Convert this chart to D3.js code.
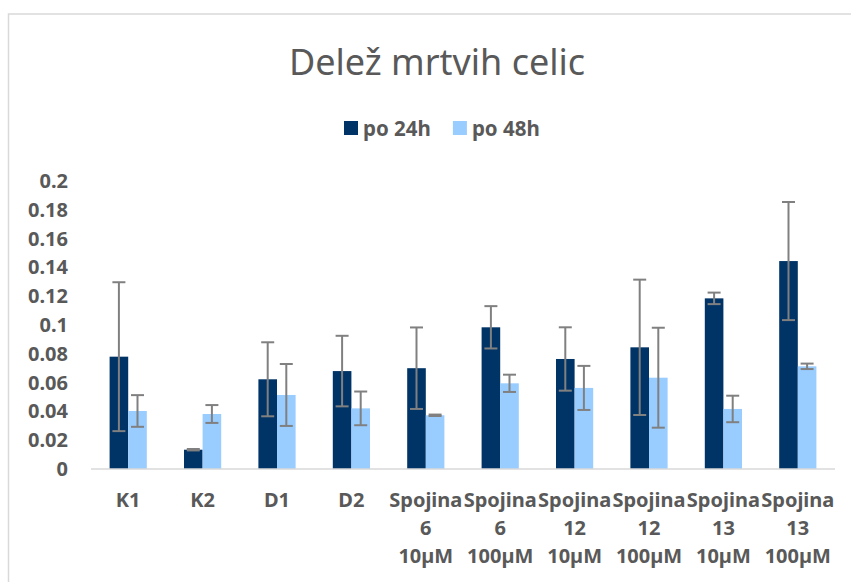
<!DOCTYPE html>
<html lang="en">
<head>
<meta charset="UTF-8">
<title>Delež mrtvih celic</title>
<script src="https://d3js.org/d3.v7.min.js"></script>
<style>
  body { margin: 0; background: #fff; }
  svg { font-family: "Noto Sans", "Open Sans", sans-serif; }
</style>
</head>
<body>
<div id="chart"></div>
<script>
// data
var categories = ["K1", "K2", "D1", "D2", "Spojina 6 10µM", "Spojina 6 100µM",
                  "Spojina 12 10µM", "Spojina 12 100µM", "Spojina 13 10µM", "Spojina 13 100µM"];
var seriesNames = ["po 24h", "po 48h"];
var po24 = [0.078, 0.0134, 0.0623, 0.068, 0.070, 0.0984, 0.0764, 0.0845, 0.1185, 0.1444];
var err24 = [0.0517, 0.0005, 0.0257, 0.0245, 0.0283, 0.0147, 0.022, 0.047, 0.004, 0.041];
var po48 = [0.0403, 0.0382, 0.0514, 0.0421, 0.0373, 0.0595, 0.0563, 0.0634, 0.0417, 0.0713];
var err48 = [0.011, 0.0062, 0.0215, 0.0117, 0.0005, 0.006, 0.0153, 0.0347, 0.0092, 0.0019];
var yTicks = [0, 0.02, 0.04, 0.06, 0.08, 0.1, 0.12, 0.14, 0.16, 0.18, 0.2];
var colors = ["#003366", "#99CCFF"];

var width = 851, height = 582;
var margin = {left: 91, right: 16, top: 181, bottom: 113};

var svg = d3.select("#chart").append("svg")
    .attr("width", width)
    .attr("height", height);

// chart frame
svg.append("rect")
    .attr("x", 8.5).attr("y", 14)
    .attr("width", 900).attr("height", 700)
    .attr("fill", "none")
    .attr("stroke", "#d9d9d9")
    .attr("stroke-width", 1.5);

svg.append("text")
    .attr("x", 437).attr("y", 75)
    .attr("text-anchor", "middle")
    .attr("fill", "#595959")
    .style("font-size", "36px")
    .text("Delež mrtvih celic");

var x0 = d3.scaleBand()
    .domain(categories)
    .range([margin.left, width - margin.right])
    .paddingInner(0.5)
    .paddingOuter(0.25);

var x1 = d3.scaleBand()
    .domain(seriesNames)
    .range([0, x0.bandwidth()]);

var y = d3.scaleLinear()
    .domain([0, 0.2])
    .range([height - margin.bottom, margin.top]);

// y axis labels
var yAxis = svg.append("g")
    .attr("transform", "translate(" + margin.left + ",0)")
    .call(d3.axisLeft(y).tickValues(yTicks).tickSize(0).tickPadding(23)
        .tickFormat(function(d) { return String(+d.toFixed(2)); }));
yAxis.select(".domain").remove();
yAxis.selectAll("text")
    .attr("fill", "#595959")
    .style("font-size", "20px")
    .style("font-weight", "bold")
    .style("font-family", "\"Noto Sans\", sans-serif");

// bars
var rows = categories.map(function(c, i) {
    return {cat: c, vals: [
        {s: seriesNames[0], v: po24[i], e: err24[i], c: colors[0]},
        {s: seriesNames[1], v: po48[i], e: err48[i], c: colors[1]}
    ]};
});

var groups = svg.selectAll(".grp")
    .data(rows)
    .enter().append("g")
    .attr("class", "grp")
    .attr("transform", function(d) { return "translate(" + x0(d.cat) + ",0)"; });

groups.selectAll("rect")
    .data(function(d) { return d.vals; })
    .enter().append("rect")
    .attr("x", function(d) { return x1(d.s); })
    .attr("width", x1.bandwidth())
    .attr("y", function(d) { return y(d.v); })
    .attr("height", function(d) { return y(0) - y(d.v); })
    .attr("fill", function(d) { return d.c; });

// x axis line
svg.append("line")
    .attr("x1", margin.left).attr("x2", width - margin.right)
    .attr("y1", y(0)).attr("y2", y(0))
    .attr("stroke", "#d9d9d9")
    .attr("stroke-width", 1.5);

// error bars
var capW = 6.5;
var eb = groups.selectAll(".err")
    .data(function(d) { return d.vals; })
    .enter().append("g")
    .attr("class", "err")
    .attr("stroke", "#808080")
    .attr("stroke-width", 2);
eb.append("line")
    .attr("x1", function(d) { return x1(d.s) + x1.bandwidth() / 2; })
    .attr("x2", function(d) { return x1(d.s) + x1.bandwidth() / 2; })
    .attr("y1", function(d) { return y(d.v + d.e); })
    .attr("y2", function(d) { return y(d.v - d.e); });
eb.append("line")
    .attr("x1", function(d) { return x1(d.s) + x1.bandwidth() / 2 - capW; })
    .attr("x2", function(d) { return x1(d.s) + x1.bandwidth() / 2 + capW; })
    .attr("y1", function(d) { return y(d.v + d.e); })
    .attr("y2", function(d) { return y(d.v + d.e); });
eb.append("line")
    .attr("x1", function(d) { return x1(d.s) + x1.bandwidth() / 2 - capW; })
    .attr("x2", function(d) { return x1(d.s) + x1.bandwidth() / 2 + capW; })
    .attr("y1", function(d) { return y(d.v - d.e); })
    .attr("y2", function(d) { return y(d.v - d.e); });

// category labels, wrapped on spaces
var xl = svg.selectAll(".xlab")
    .data(categories)
    .enter().append("text")
    .attr("class", "xlab")
    .attr("text-anchor", "middle")
    .attr("fill", "#595959")
    .style("font-size", "20px")
    .style("font-weight", "bold")
    .attr("transform", function(d) { return "translate(" + (x0(d) + x0.bandwidth() / 2) + ",507)"; });
xl.selectAll("tspan")
    .data(function(d) { return d.split(" "); })
    .enter().append("tspan")
    .attr("x", 0)
    .attr("y", function(d, i) { return i * 28; })
    .text(function(d) { return d; });

// legend
var leg = svg.append("g");
var lx = 344;
seriesNames.forEach(function(name, i) {
    leg.append("rect")
        .attr("x", lx).attr("y", 121)
        .attr("width", 14).attr("height", 14)
        .attr("fill", colors[i]);
    var t = leg.append("text")
        .attr("x", lx + 19).attr("y", 136)
        .attr("fill", "#595959")
        .style("font-size", "20.5px")
        .style("font-weight", "bold")
        .text(name);
    lx += 19 + t.node().getComputedTextLength() + 22;
});
</script>
</body>
</html>
